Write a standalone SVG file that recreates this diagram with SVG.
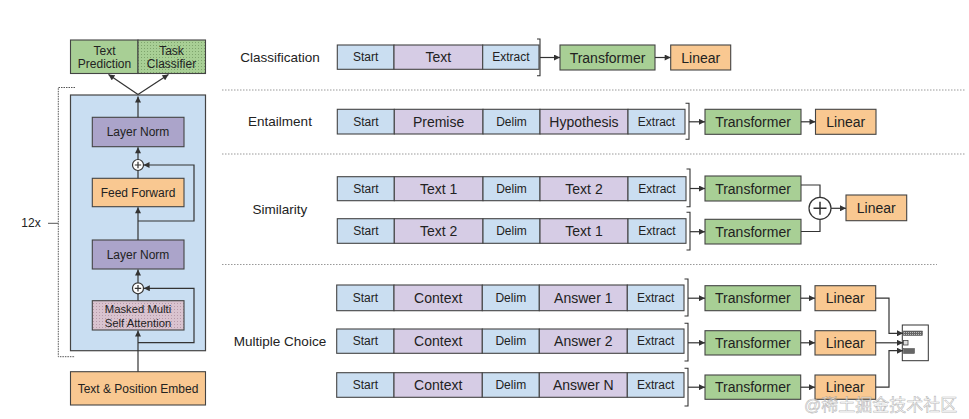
<svg xmlns="http://www.w3.org/2000/svg" width="969" height="419" viewBox="0 0 969 419">
<style>
text{font-family:"Liberation Sans",Arial,sans-serif;fill:#222;text-anchor:middle;dominant-baseline:central}
.b{fill:#cadef1;stroke:#444;stroke-width:1.1}
.p{fill:#d6cce5;stroke:#444;stroke-width:1.1}
.g{fill:#a8cf95;stroke:#444;stroke-width:1.1}
.o{fill:#f9c891;stroke:#444;stroke-width:1.1}
.ln{fill:#aba4ca;stroke:#444;stroke-width:1.1}
.s{font-size:12px}
.m{font-size:14px}
.lab{font-size:13.5px}
.w{fill:none;stroke:#333;stroke-width:1.2}
.wa{fill:none;stroke:#333;stroke-width:1.2;marker-end:url(#ah)}
.sep{fill:none;stroke:#999;stroke-width:1;stroke-dasharray:1.5 1.5}
.br{fill:none;stroke:#333;stroke-width:1.1}
</style>
<defs>
<marker id="ah" viewBox="0 0 10 10" refX="10" refY="5" markerWidth="7" markerHeight="6" markerUnits="userSpaceOnUse" orient="auto"><path d="M0,0L10,5L0,10z" fill="#333"/></marker>
<pattern id="dots" width="3" height="3" patternUnits="userSpaceOnUse"><rect width="3" height="3" fill="#a8cf95"/><rect width="1" height="1" fill="#7fa56d"/></pattern>
<pattern id="dots2" width="3" height="3" patternUnits="userSpaceOnUse"><rect width="3" height="3" fill="#d9c3cf"/><rect width="1" height="1" fill="#b79aa9"/></pattern>
<pattern id="dots3" width="2" height="2" patternUnits="userSpaceOnUse"><rect width="2" height="2" fill="#666"/><rect width="1" height="1" fill="#bbb"/></pattern>
</defs>

<g id="separators">
<line class="sep" x1="222" y1="90" x2="965" y2="90"/>
<line class="sep" x1="222" y1="154" x2="965" y2="154"/>
<line class="sep" x1="222" y1="264.5" x2="937" y2="264.5"/>
</g>

<g id="repeat-bracket">
<path d="M75,87.5H58.3V356.7H75" fill="none" stroke="#555" stroke-width="1" stroke-dasharray="1.5 1"/>
<line x1="48" y1="223.3" x2="58.3" y2="223.3" stroke="#555" stroke-width="1"/>
<text x="31" y="223.3" class="s">12x</text>
</g>
<g id="decoder-block"><rect x="70.5" y="95" width="135" height="255.7" fill="#c9def2" stroke="#444" stroke-width="1.2"/></g>
<g id="text-prediction"><rect x="70.5" y="40" width="67.5" height="33.5" class="g"/><text x="104.5" y="50.7" class="s">Text</text><text x="104.5" y="64.3" class="s">Prediction</text></g>
<g id="task-classifier"><rect x="138" y="40" width="67.5" height="33.5" fill="url(#dots)" stroke="#444" stroke-width="1.1"/><text x="171.5" y="50.7" class="s">Task</text><text x="171.5" y="64.3" class="s">Classifier</text></g>
<g id="layer-norm-1"><rect x="92.3" y="117.3" width="91.7" height="29.4" class="ln"/><text x="138" y="132" class="s">Layer Norm</text></g>
<g id="add-1"><circle cx="138" cy="165" r="5.5" fill="#fff" stroke="#333" stroke-width="1.2"/><path d="M134.8,165H141.2M138,161.8V168.2" stroke="#333" stroke-width="1.2"/></g>
<g id="feed-forward"><rect x="92.3" y="178.3" width="91.7" height="28.4" class="o"/><text x="138" y="192.5" class="s">Feed Forward</text></g>
<g id="layer-norm-2"><rect x="92.3" y="240" width="91.7" height="29" class="ln"/><text x="138" y="254.5" class="s">Layer Norm</text></g>
<g id="add-2"><circle cx="138" cy="288.3" r="5.5" fill="#fff" stroke="#333" stroke-width="1.2"/><path d="M134.8,288.3H141.2M138,285.1V291.5" stroke="#333" stroke-width="1.2"/></g>
<g id="masked-attention"><rect x="92.3" y="300.7" width="91.7" height="29.3" fill="url(#dots2)" stroke="#444" stroke-width="1.1"/><text x="138" y="309.3" style="font-size:11.3px">Masked Multi</text><text x="138" y="322.7" style="font-size:11.3px">Self Attention</text></g>
<g id="embed"><rect x="70.5" y="371.7" width="135" height="33.3" class="o"/><text x="138" y="388.5" class="s">Text &amp; Position Embed</text></g>

<g id="left-connectors">
<line class="wa" x1="138" y1="371.7" x2="138" y2="330.5"/>
<line class="w" x1="138" y1="300.7" x2="138" y2="293.8"/>
<line class="wa" x1="138" y1="282.8" x2="138" y2="269.5"/>
<path class="wa" d="M138,342.7H194V288.3H143.8"/>
<line class="wa" x1="138" y1="240" x2="138" y2="207.2"/>
<line class="w" x1="138" y1="178.3" x2="138" y2="170.5"/>
<line class="wa" x1="138" y1="159.5" x2="138" y2="147.2"/>
<path class="wa" d="M138,221H194V165H143.5"/>
<line class="wa" x1="138" y1="117.3" x2="138" y2="96.5"/>
<line class="wa" x1="138" y1="94.5" x2="108.5" y2="74.5"/>
<line class="wa" x1="138" y1="94.5" x2="168.5" y2="74.5"/>
</g>

<g id="labels">
<text x="280" y="57" class="lab">Classification</text>
<text x="280" y="121.5" class="lab">Entailment</text>
<text x="280" y="209" class="lab">Similarity</text>
<text x="280" y="341" class="lab">Multiple Choice</text>
</g>

<g id="cls-tokens">
<rect x="337.3" y="45" width="56.7" height="24.3" class="b"/><text x="365.6" y="57.2" class="s">Start</text>
<rect x="394" y="45" width="88.7" height="24.3" class="p"/><text x="438.3" y="57.2" class="m">Text</text>
<rect x="482.7" y="45" width="56.3" height="24.3" class="b"/><text x="510.8" y="57.2" class="s">Extract</text>
</g>
<g id="cls-transformer"><rect x="560" y="45" width="95" height="25" class="g"/><text x="607.5" y="57.5" class="m">Transformer</text></g>
<g id="cls-linear"><rect x="670.7" y="45" width="60" height="25" class="o"/><text x="700.7" y="57.5" class="m">Linear</text></g>

<g id="ent-tokens">
<rect x="337.3" y="109.3" width="57" height="24.7" class="b"/><text x="365.8" y="121.7" class="s">Start</text>
<rect x="394.3" y="109.3" width="88.7" height="24.7" class="p"/><text x="438.6" y="121.7" class="m">Premise</text>
<rect x="483" y="109.3" width="57" height="24.7" class="b"/><text x="511.5" y="121.7" class="s">Delim</text>
<rect x="540" y="109.3" width="88" height="24.7" class="p"/><text x="584" y="121.7" class="m">Hypothesis</text>
<rect x="628" y="109.3" width="57" height="24.7" class="b"/><text x="656.5" y="121.7" class="s">Extract</text>
</g>
<g id="ent-transformer"><rect x="705" y="109.3" width="96" height="25" class="g"/><text x="753" y="121.8" class="m">Transformer</text></g>
<g id="ent-linear"><rect x="815.5" y="109.3" width="60.5" height="25" class="o"/><text x="845.7" y="121.8" class="m">Linear</text></g>

<g id="sim-tokens-1">
<rect x="337.3" y="176.7" width="57" height="24" class="b"/><text x="365.8" y="188.7" class="s">Start</text>
<rect x="394.3" y="176.7" width="88.7" height="24" class="p"/><text x="438.6" y="188.7" class="m">Text 1</text>
<rect x="483" y="176.7" width="57" height="24" class="b"/><text x="511.5" y="188.7" class="s">Delim</text>
<rect x="540" y="176.7" width="88" height="24" class="p"/><text x="584" y="188.7" class="m">Text 2</text>
<rect x="628" y="176.7" width="58" height="24" class="b"/><text x="657" y="188.7" class="s">Extract</text>
</g>
<g id="sim-tokens-2">
<rect x="337.3" y="218.7" width="57" height="24.6" class="b"/><text x="365.8" y="231" class="s">Start</text>
<rect x="394.3" y="218.7" width="88.7" height="24.6" class="p"/><text x="438.6" y="231" class="m">Text 2</text>
<rect x="483" y="218.7" width="57" height="24.6" class="b"/><text x="511.5" y="231" class="s">Delim</text>
<rect x="540" y="218.7" width="88" height="24.6" class="p"/><text x="584" y="231" class="m">Text 1</text>
<rect x="628" y="218.7" width="58" height="24.6" class="b"/><text x="657" y="231" class="s">Extract</text>
</g>
<g id="sim-transformer-1"><rect x="705" y="176" width="96" height="25" class="g"/><text x="753" y="188.5" class="m">Transformer</text></g>
<g id="sim-transformer-2"><rect x="705" y="219.3" width="96" height="24.7" class="g"/><text x="753" y="231.7" class="m">Transformer</text></g>
<g id="sim-add"><circle cx="820" cy="208.3" r="11" fill="#fff" stroke="#333" stroke-width="1.2"/><path d="M813.5,208.3H826.5M820,201.8V214.8" stroke="#333" stroke-width="1.5"/></g>
<g id="sim-linear"><rect x="846" y="195" width="60.7" height="25.7" class="o"/><text x="876.3" y="207.8" class="m">Linear</text></g>

<g id="mc-tokens-1">
<rect x="336.7" y="285" width="57.3" height="25.7" class="b"/><text x="365.3" y="297.8" class="s">Start</text>
<rect x="394" y="285" width="88.3" height="25.7" class="p"/><text x="438.2" y="297.8" class="m">Context</text>
<rect x="482.3" y="285" width="57" height="25.7" class="b"/><text x="510.8" y="297.8" class="s">Delim</text>
<rect x="539.3" y="285" width="88" height="25.7" class="p"/><text x="583.3" y="297.8" class="m">Answer 1</text>
<rect x="627.3" y="285" width="56.7" height="25.7" class="b"/><text x="655.7" y="297.8" class="s">Extract</text>
</g>
<g id="mc-tokens-2">
<rect x="336.7" y="329" width="57.3" height="24.3" class="b"/><text x="365.3" y="341" class="s">Start</text>
<rect x="394" y="329" width="88.3" height="24.3" class="p"/><text x="438.2" y="341" class="m">Context</text>
<rect x="482.3" y="329" width="57" height="24.3" class="b"/><text x="510.8" y="341" class="s">Delim</text>
<rect x="539.3" y="329" width="88" height="24.3" class="p"/><text x="583.3" y="341" class="m">Answer 2</text>
<rect x="627.3" y="329" width="56.7" height="24.3" class="b"/><text x="655.7" y="341" class="s">Extract</text>
</g>
<g id="mc-tokens-3">
<rect x="336.7" y="372.7" width="57.3" height="24.6" class="b"/><text x="365.3" y="385" class="s">Start</text>
<rect x="394" y="372.7" width="88.3" height="24.6" class="p"/><text x="438.2" y="385" class="m">Context</text>
<rect x="482.3" y="372.7" width="57" height="24.6" class="b"/><text x="510.8" y="385" class="s">Delim</text>
<rect x="539.3" y="372.7" width="88" height="24.6" class="p"/><text x="583.3" y="385" class="m">Answer N</text>
<rect x="627.3" y="372.7" width="56.7" height="24.6" class="b"/><text x="655.7" y="385" class="s">Extract</text>
</g>
<g id="mc-transformer-1"><rect x="705" y="285.7" width="95.7" height="25" class="g"/><text x="752.8" y="298.2" class="m">Transformer</text></g>
<g id="mc-transformer-2"><rect x="705" y="330.7" width="95.7" height="24.3" class="g"/><text x="752.8" y="342.8" class="m">Transformer</text></g>
<g id="mc-transformer-3"><rect x="705" y="375" width="95.7" height="24.3" class="g"/><text x="752.8" y="387.2" class="m">Transformer</text></g>
<g id="mc-linear-1"><rect x="815" y="285.7" width="60.7" height="25" class="o"/><text x="845.3" y="298.2" class="m">Linear</text></g>
<g id="mc-linear-2"><rect x="815" y="330.7" width="60.7" height="24.3" class="o"/><text x="845.3" y="342.8" class="m">Linear</text></g>
<g id="mc-linear-3"><rect x="815" y="375" width="60.7" height="24.3" class="o"/><text x="845.3" y="387.2" class="m">Linear</text></g>
<g id="mc-softmax">
<rect x="902.3" y="325" width="26" height="35.7" fill="#fff" stroke="#333" stroke-width="1"/>
<rect x="903.5" y="331" width="19" height="4.5" fill="url(#dots3)" stroke="#444" stroke-width="0.5"/>
<rect x="903.5" y="340.5" width="4.5" height="4.5" fill="#ddd" stroke="#444" stroke-width="0.8"/>
<rect x="903.5" y="348.5" width="11" height="5" fill="#666" stroke="#444" stroke-width="0.5"/>
</g>

<g id="connectors">
<path class="br" d="M537,39H540V75.7H537"/>
<line class="wa" x1="540" y1="57.5" x2="560" y2="57.5"/>
<line class="wa" x1="655" y1="57.5" x2="670.7" y2="57.5"/>
<path class="br" d="M685.5,103.3H689V139.3H685.5"/>
<line class="wa" x1="689" y1="121.8" x2="705" y2="121.8"/>
<line class="wa" x1="801" y1="121.8" x2="815.5" y2="121.8"/>
<path class="br" d="M686.5,169H690V206.7H686.5"/>
<line class="wa" x1="690" y1="188.5" x2="705" y2="188.5"/>
<path class="br" d="M686.5,212.3H690V250H686.5"/>
<line class="wa" x1="690" y1="231.7" x2="705" y2="231.7"/>
<path class="w" d="M801,185H820V197.3"/>
<path class="w" d="M801,231.5H820V219.3"/>
<line class="wa" x1="831" y1="208.3" x2="846" y2="208.3"/>
<path class="br" d="M684.5,279H688V316H684.5"/>
<line class="wa" x1="688" y1="298.2" x2="705" y2="298.2"/>
<path class="br" d="M684.5,323.3H688V361H684.5"/>
<line class="wa" x1="688" y1="342.8" x2="705" y2="342.8"/>
<path class="br" d="M684.5,368.3H688V406H684.5"/>
<line class="wa" x1="688" y1="387.2" x2="705" y2="387.2"/>
<line class="wa" x1="800.7" y1="298.2" x2="815" y2="298.2"/>
<line class="wa" x1="800.7" y1="342.8" x2="815" y2="342.8"/>
<line class="wa" x1="800.7" y1="387.2" x2="815" y2="387.2"/>
<path class="wa" d="M875.7,298.2H889V333.3H903"/>
<line class="wa" x1="875.7" y1="342.8" x2="903" y2="342.8"/>
<path class="wa" d="M875.7,387.2H889V350.7H903"/>
</g>

<text x="804" y="405" style="font-family:'Liberation Sans','Noto Sans CJK SC',sans-serif;font-size:17px;text-anchor:start;fill:#ffffff;fill-opacity:0.65;stroke:#8a8a8a;stroke-width:0.6;stroke-opacity:0.6">@稀土掘金技术社区</text>
</svg>
